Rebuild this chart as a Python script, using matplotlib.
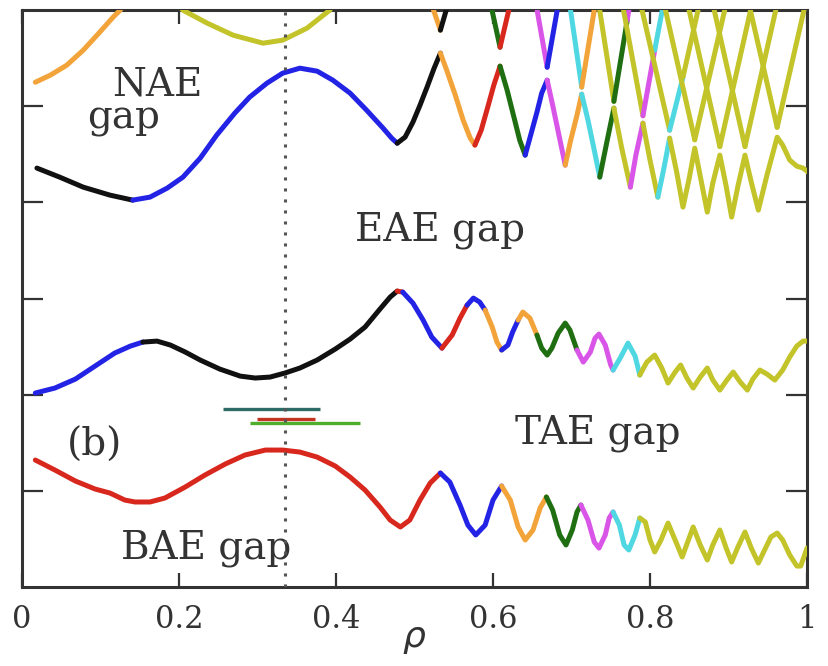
import numpy as np
import matplotlib
matplotlib.use('Agg')
import matplotlib.pyplot as plt

COL = {'black': '#111111', 'blue': '#2323e6', 'red': '#d8281e', 'orange': '#f2a33a',
       'green': '#1f6e12', 'magenta': '#d855e8', 'cyan': '#4fd8e2', 'yellow': '#c3c32a'}

# ---- lowest continuum branch (below TAE gap) ----
low_rho = [0.017, 0.042, 0.068, 0.093, 0.112, 0.131, 0.144, 0.163, 0.182, 0.208, 0.233, 0.259,
           0.284, 0.310, 0.332, 0.354, 0.376, 0.399, 0.418, 0.437, 0.456, 0.469, 0.482, 0.494,
           0.507, 0.520, 0.533, 0.545, 0.558, 0.568, 0.578, 0.590, 0.600, 0.611, 0.622, 0.632,
           0.641, 0.651, 0.660, 0.668, 0.676, 0.685, 0.693, 0.701, 0.707, 0.712, 0.721, 0.729,
           0.735, 0.743, 0.748, 0.753, 0.761, 0.767, 0.773, 0.781, 0.787, 0.794, 0.800, 0.806,
           0.814, 0.823, 0.832, 0.841, 0.848, 0.855, 0.864, 0.873, 0.880, 0.889, 0.897, 0.904,
           0.912, 0.921, 0.929, 0.938, 0.946, 0.954, 0.962, 0.969, 0.978, 0.987, 0.992, 1.000]
low_omega = [1.320, 1.216, 1.102, 1.019, 0.977, 0.904, 0.884, 0.884, 0.925, 1.040, 1.164, 1.279,
             1.372, 1.424, 1.424, 1.403, 1.351, 1.258, 1.143, 1.008, 0.832, 0.696, 0.624, 0.696,
             0.904, 1.081, 1.185, 1.091, 0.852, 0.644, 0.541, 0.644, 0.904, 1.050, 0.904, 0.624,
             0.489, 0.593, 0.821, 0.936, 0.800, 0.541, 0.437, 0.593, 0.780, 0.852, 0.696, 0.468,
             0.405, 0.541, 0.717, 0.780, 0.644, 0.437, 0.385, 0.541, 0.717, 0.676, 0.489, 0.364,
             0.489, 0.665, 0.489, 0.312, 0.468, 0.624, 0.437, 0.281, 0.437, 0.593, 0.405, 0.260,
             0.416, 0.572, 0.405, 0.249, 0.385, 0.520, 0.561, 0.489, 0.333, 0.218, 0.218, 0.405]
low_breaks = [0.017, 0.533, 0.611, 0.668, 0.712, 0.753, 0.787, 1.000]
low_colors = ['red', 'blue', 'orange', 'green', 'magenta', 'cyan', 'yellow']

# ---- middle branch (between TAE and EAE gaps) ----
mid_rho = [0.017, 0.042, 0.068, 0.093, 0.118, 0.138, 0.154, 0.172, 0.189, 0.208, 0.227, 0.252,
           0.278, 0.297, 0.316, 0.335, 0.354, 0.376, 0.399, 0.418, 0.437, 0.456, 0.469, 0.478,
           0.485, 0.498, 0.511, 0.522, 0.535, 0.548, 0.558, 0.567, 0.575, 0.583, 0.590, 0.599,
           0.605, 0.611, 0.619, 0.625, 0.632, 0.638, 0.647, 0.656, 0.662, 0.669, 0.675, 0.683,
           0.692, 0.698, 0.707, 0.715, 0.724, 0.730, 0.735, 0.743, 0.750, 0.753, 0.762, 0.772,
           0.781, 0.787, 0.796, 0.806, 0.815, 0.823, 0.832, 0.839, 0.847, 0.855, 0.864, 0.873,
           0.880, 0.889, 0.898, 0.906, 0.915, 0.924, 0.931, 0.940, 0.949, 0.959, 0.969, 0.978,
           0.987, 0.995, 1.000]
mid_omega = [2.017, 2.069, 2.162, 2.297, 2.432, 2.505, 2.547, 2.557, 2.516, 2.443, 2.360, 2.266,
             2.193, 2.173, 2.183, 2.225, 2.277, 2.360, 2.474, 2.578, 2.703, 2.890, 3.015, 3.077,
             3.067, 2.952, 2.775, 2.599, 2.484, 2.620, 2.796, 2.931, 3.004, 2.963, 2.879, 2.703,
             2.547, 2.464, 2.516, 2.651, 2.775, 2.859, 2.796, 2.620, 2.484, 2.412, 2.484, 2.640,
             2.744, 2.672, 2.464, 2.339, 2.443, 2.588, 2.630, 2.516, 2.308, 2.256, 2.380, 2.536,
             2.401, 2.204, 2.339, 2.412, 2.277, 2.121, 2.235, 2.308, 2.173, 2.069, 2.183, 2.277,
             2.152, 2.048, 2.152, 2.235, 2.131, 2.048, 2.162, 2.256, 2.214, 2.152, 2.256, 2.391,
             2.505, 2.557, 2.557]
mid_breaks = [0.017, 0.154, 0.478, 0.485, 0.535, 0.567, 0.590, 0.611, 0.632, 0.656, 0.707,
              0.753, 0.787, 1.000]
mid_colors = ['blue', 'black', 'red', 'blue', 'red', 'blue', 'orange', 'blue', 'orange',
              'green', 'magenta', 'cyan', 'yellow']

# ---- upper branch (between EAE and NAE gaps), lower zigzag of the lattice ----
up_rho = [0.019, 0.048, 0.078, 0.112, 0.141, 0.163, 0.185, 0.205, 0.227, 0.248, 0.271, 0.290,
          0.312, 0.332, 0.354, 0.376, 0.396, 0.418, 0.439, 0.460, 0.471, 0.478, 0.488, 0.498,
          0.507, 0.516, 0.525, 0.533, 0.541, 0.552, 0.562, 0.571, 0.577, 0.585, 0.594, 0.601,
          0.609, 0.618, 0.627, 0.634, 0.641, 0.648, 0.656, 0.662, 0.669, 0.676, 0.684, 0.692,
          0.699, 0.707, 0.713, 0.721, 0.729, 0.736, 0.745, 0.754, 0.764, 0.775, 0.782, 0.791,
          0.800, 0.810, 0.818, 0.825, 0.834, 0.842, 0.850, 0.857, 0.865, 0.873, 0.880, 0.889,
          0.897, 0.904, 0.912, 0.921, 0.929, 0.938, 0.949, 0.962, 0.969, 0.978, 0.987, 0.995,
          1.003]
up_omega = [4.356, 4.262, 4.158, 4.075, 4.023, 4.054, 4.148, 4.262, 4.459, 4.699, 4.927, 5.094,
            5.239, 5.343, 5.395, 5.364, 5.270, 5.135, 4.958, 4.771, 4.667, 4.615, 4.678, 4.834,
            5.010, 5.198, 5.395, 5.551, 5.374, 5.114, 4.854, 4.667, 4.595, 4.751, 5.010, 5.218,
            5.416, 5.166, 4.875, 4.647, 4.491, 4.699, 4.938, 5.135, 5.270, 5.010, 4.699, 4.387,
            4.647, 4.906, 5.125, 4.854, 4.543, 4.262, 4.626, 4.979, 4.563, 4.158, 4.491, 4.823,
            4.439, 4.054, 4.366, 4.667, 4.314, 3.950, 4.252, 4.563, 4.231, 3.898, 4.200, 4.491,
            4.168, 3.846, 4.168, 4.491, 4.210, 3.919, 4.283, 4.678, 4.595, 4.439, 4.376, 4.356,
            4.304]
up_breaks = [0.019, 0.141, 0.478, 0.533, 0.577, 0.609, 0.641, 0.669, 0.692, 0.713, 0.736,
             0.754, 0.775, 0.791, 0.810, 0.825, 1.003]
up_colors = ['black', 'blue', 'black', 'orange', 'red', 'green', 'blue', 'magenta', 'orange',
             'cyan', 'green', 'yellow', 'magenta', 'yellow', 'cyan', 'yellow']

# ---- upper arms of the lattice (V shapes hanging from above, clipped at top) ----
vee_tip_rho = [0.533, 0.609, 0.669, 0.713, 0.754, 0.791, 0.825, 0.857, 0.889, 0.921, 0.962]
vee_tip_omega = [5.790, 5.613, 5.405, 5.198, 5.050, 4.900, 4.750, 4.650, 4.580, 4.580, 4.780]
vee_left_rho = [0.520, 0.596, 0.654, 0.697, 0.734, 0.764, 0.787, 0.817, 0.847, 0.879, 0.925]
vee_right_rho = [0.544, 0.623, 0.684, 0.731, 0.775, 0.818, 0.864, 0.898, 0.931, 0.963, 0.999]
vee_top_omega = 6.10
vee_left_colors = ['orange', 'green', 'magenta', 'cyan', 'yellow', 'yellow', 'yellow',
                   'yellow', 'yellow', 'yellow', 'yellow']
vee_right_colors = ['black', 'red', 'blue', 'orange', 'green', 'magenta', 'cyan',
                    'yellow', 'yellow', 'yellow', 'yellow']
# colour changes part-way up some right arms: (vee index, rho, omega, new colour)
arm_recolor = [(4, 0.771, 5.894, 'magenta'), (5, 0.806, 5.582, 'cyan'), (6, 0.842, 5.302, 'yellow')]

# ---- branches above NAE gap (top-left) ----
nae_orange_rho = [0.017, 0.036, 0.057, 0.078, 0.099, 0.116, 0.125, 0.134]
nae_orange_omega = [5.249, 5.322, 5.426, 5.582, 5.769, 5.925, 5.998, 6.102]
nae_yellow_rho = [0.195, 0.205, 0.236, 0.269, 0.307, 0.332, 0.363, 0.392, 0.401]
nae_yellow_omega = [6.102, 5.998, 5.863, 5.738, 5.655, 5.686, 5.811, 5.998, 6.102]

# ---- mode frequency markers ----
bar_rho_start = [0.256, 0.290, 0.299]
bar_rho_end = [0.380, 0.431, 0.373]
bar_omega = [1.850, 1.705, 1.746]
bar_colors = ['#2e6b66', '#4fae2c', '#c23322']

q_surface_rho = 0.335

gap_labels = ['NAE', 'gap', 'EAE gap', 'TAE gap', 'BAE gap', '(b)']
label_rho = [0.172, 0.130, 0.532, 0.734, 0.234, 0.093]
label_omega = [5.114, 4.771, 3.607, 1.497, 0.301, 1.36]

xticks = [0, 0.2, 0.4, 0.6, 0.8, 1.0]
xtick_labels = ['0', '0.2', '0.4', '0.6', '0.8', '1']
yticks = [1, 2, 3, 4, 5]

LW = 3.6


def draw_runs(ax, rho, om, breaks, colors):
    rho = np.asarray(rho)
    om = np.asarray(om)
    for a, b, c in zip(breaks[:-1], breaks[1:], colors):
        m = (rho >= a - 1e-9) & (rho <= b + 1e-9)
        ax.plot(rho[m], om[m], color=COL[c], lw=LW, solid_capstyle='round',
                solid_joinstyle='round', zorder=3)


fig = plt.figure(figsize=(8.29, 6.66), dpi=100)
ax = fig.add_axes([22 / 829, 79 / 666, 785 / 829, 577 / 666])

draw_runs(ax, low_rho, low_omega, low_breaks, low_colors)
draw_runs(ax, mid_rho, mid_omega, mid_breaks, mid_colors)
draw_runs(ax, up_rho, up_omega, up_breaks, up_colors)

recolor = {i: (r, o, c) for i, r, o, c in arm_recolor}
for i in range(len(vee_tip_rho)):
    tr, to = vee_tip_rho[i], vee_tip_omega[i]
    ax.plot([vee_left_rho[i], tr], [vee_top_omega, to], color=COL[vee_left_colors[i]],
            lw=LW, solid_capstyle='round', zorder=3)
    if i in recolor:
        r, o, c = recolor[i]
        ax.plot([tr, r], [to, o], color=COL[vee_right_colors[i]], lw=LW,
                solid_capstyle='round', zorder=3)
        ax.plot([r, vee_right_rho[i]], [o, vee_top_omega], color=COL[c], lw=LW,
                solid_capstyle='round', zorder=3)
    else:
        ax.plot([tr, vee_right_rho[i]], [to, vee_top_omega], color=COL[vee_right_colors[i]],
                lw=LW, solid_capstyle='round', zorder=3)

ax.plot(nae_orange_rho, nae_orange_omega, color=COL['orange'], lw=LW, solid_capstyle='round',
        solid_joinstyle='round', zorder=3)
ax.plot(nae_yellow_rho, nae_yellow_omega, color=COL['yellow'], lw=LW, solid_capstyle='round',
        solid_joinstyle='round', zorder=3)

for a, b, o, c in zip(bar_rho_start, bar_rho_end, bar_omega, bar_colors):
    ax.plot([a, b], [o, o], color=c, lw=2.4, solid_capstyle='butt', zorder=4)

ax.axvline(q_surface_rho, color='#555555', lw=2.2, linestyle=(0, (1, 2.6)),
           dash_capstyle='butt', zorder=6)

for t, r, o in zip(gap_labels, label_rho, label_omega):
    ax.text(r, o, t, ha='center', va='baseline', fontsize=28, family='DejaVu Serif',
            color='#333333', zorder=5)

ax.set_xlim(0, 1)
ax.set_ylim(0, 6)
ax.set_xticks(xticks)
ax.set_xticklabels(xtick_labels, family='DejaVu Serif', fontsize=22, color='#333333')
ax.set_yticks(yticks)
ax.set_yticklabels([])
ax.tick_params(axis='both', direction='in', top=True, right=True, width=1.6, color='#333333')
ax.tick_params(axis='x', length=10, pad=12)
ax.tick_params(axis='y', length=15)
for s in ax.spines.values():
    s.set_linewidth(2.2)
    s.set_color('#333333')
ax.set_xlabel(r'$\rho$', fontsize=26, color='#333333', labelpad=-9)

fig.savefig('out.png', dpi=100)
